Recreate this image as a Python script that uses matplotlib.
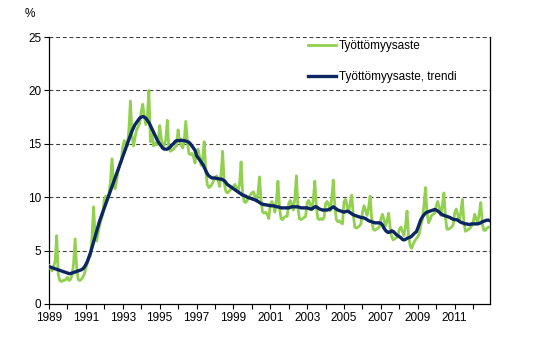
import numpy as np
import matplotlib
matplotlib.use('Agg')
import matplotlib.pyplot as plt

# --- Data: monthly unemployment rate (%) and trend, Jan 1989 - Dec 2012 ---
FIRST_YEAR = 1989
LAST_YEAR = 2012

# Työttömyysaste, one row per year (Jan..Dec)
rate = [
    [3.6, 3.3, 3.1, 3.5, 4.0, 6.4, 2.8, 2.2, 2.1, 2.2, 2.2, 2.3],        # 1989
    [2.5, 2.2, 2.3, 2.7, 3.8, 6.1, 3.4, 2.3, 2.2, 2.3, 2.5, 2.8],        # 1990
    [3.4, 3.8, 4.3, 4.5, 6.2, 9.1, 6.4, 5.9, 6.7, 7.4, 7.9, 8.4],        # 1991
    [9.8, 10.1, 9.9, 10.2, 11.5, 13.6, 11.3, 10.8, 11.6, 12.4, 13.0, 13.4],  # 1992
    [14.7, 15.3, 15.0, 14.8, 16.3, 19.0, 15.8, 14.8, 15.6, 16.3, 16.6, 16.9],  # 1993
    [18.0, 18.7, 17.6, 16.8, 17.5, 20.0, 15.2, 15.9, 14.8, 15.1, 14.9, 15.0],  # 1994
    [16.7, 15.6, 14.6, 14.9, 15.4, 17.2, 14.6, 14.3, 14.4, 14.5, 14.7, 14.8],  # 1995
    [16.3, 15.3, 14.9, 14.6, 15.3, 17.1, 15.4, 14.1, 14.0, 14.1, 13.8, 13.2],  # 1996
    [14.2, 14.5, 13.8, 13.0, 13.6, 15.2, 12.4, 11.2, 10.9, 11.0, 11.2, 11.5],  # 1997
    [11.8, 12.0, 11.6, 11.0, 12.2, 14.3, 11.4, 10.6, 10.4, 10.5, 10.7, 10.8],  # 1998
    [11.0, 11.2, 10.9, 10.5, 11.2, 13.3, 10.4, 9.6, 9.5, 9.7, 10.0, 10.2],   # 1999
    [10.4, 10.5, 10.1, 9.6, 10.4, 11.9, 9.7, 8.6, 8.5, 8.6, 8.4, 8.0],       # 2000
    [9.3, 9.6, 9.3, 8.6, 9.7, 11.5, 9.0, 8.0, 7.9, 8.1, 8.2, 8.2],           # 2001
    [9.4, 9.7, 9.3, 8.8, 9.9, 12.0, 9.0, 8.0, 7.9, 8.0, 8.1, 8.2],           # 2002
    [9.5, 9.7, 9.3, 8.8, 9.8, 11.5, 9.1, 8.0, 7.9, 8.0, 7.9, 8.1],           # 2003
    [9.4, 9.6, 9.3, 8.7, 9.9, 11.6, 9.2, 7.9, 7.7, 7.8, 7.6, 7.5],           # 2004
    [9.6, 9.8, 9.2, 8.6, 9.4, 10.2, 8.4, 7.2, 7.1, 7.2, 7.3, 7.5],           # 2005
    [8.6, 9.2, 8.8, 8.3, 9.0, 10.1, 8.0, 7.0, 6.9, 7.0, 7.1, 7.2],           # 2006
    [8.0, 8.4, 7.9, 7.3, 7.8, 8.5, 7.2, 6.3, 6.0, 6.1, 6.2, 6.3],            # 2007
    [7.0, 7.2, 6.8, 6.4, 7.3, 8.7, 6.4, 5.5, 5.2, 5.6, 5.9, 6.1],            # 2008
    [6.3, 6.6, 7.4, 7.9, 9.2, 10.9, 8.6, 7.6, 7.9, 8.3, 8.4, 8.5],           # 2009
    [9.2, 9.6, 9.0, 8.3, 9.2, 10.4, 8.1, 7.0, 7.0, 7.1, 7.2, 7.4],           # 2010
    [8.5, 8.9, 8.4, 7.7, 8.6, 9.8, 7.7, 6.8, 6.9, 7.0, 7.1, 7.3],            # 2011
    [7.6, 8.4, 8.0, 7.6, 8.5, 9.5, 7.5, 6.9, 6.9, 7.1, 7.2, 7.2],            # 2012
]

# Työttömyysaste, trendi
trend = [
    [3.5, 3.45, 3.4, 3.35, 3.3, 3.25, 3.2, 3.15, 3.1, 3.05, 3.0, 2.95],
    [2.9, 2.85, 2.85, 2.9, 2.95, 3.0, 3.05, 3.1, 3.15, 3.2, 3.3, 3.45],
    [3.7, 4.0, 4.4, 4.8, 5.3, 5.8, 6.3, 6.8, 7.3, 7.8, 8.2, 8.6],
    [9.0, 9.4, 9.8, 10.2, 10.6, 11.0, 11.4, 11.8, 12.2, 12.6, 13.0, 13.4],
    [13.8, 14.2, 14.6, 15.0, 15.4, 15.8, 16.2, 16.5, 16.8, 17.0, 17.2, 17.4],
    [17.5, 17.55, 17.5, 17.4, 17.2, 17.0, 16.7, 16.4, 16.1, 15.8, 15.5, 15.2],
    [15.0, 14.8, 14.6, 14.5, 14.5, 14.5, 14.6, 14.7, 14.9, 15.0, 15.2, 15.3],
    [15.3, 15.3, 15.35, 15.3, 15.3, 15.25, 15.2, 15.15, 15.0, 14.8, 14.6, 14.4],
    [13.9, 13.7, 13.5, 13.3, 13.1, 12.8, 12.5, 12.2, 12.0, 11.9, 11.8, 11.8],
    [11.8, 11.75, 11.75, 11.7, 11.7, 11.65, 11.55, 11.4, 11.2, 11.1, 11.0, 10.9],
    [10.8, 10.7, 10.6, 10.5, 10.4, 10.3, 10.2, 10.15, 10.1, 10.0, 9.95, 9.9],
    [9.85, 9.8, 9.75, 9.7, 9.6, 9.5, 9.4, 9.35, 9.3, 9.3, 9.25, 9.25],
    [9.2, 9.2, 9.2, 9.15, 9.1, 9.1, 9.05, 9.0, 9.0, 9.0, 9.0, 9.0],
    [9.0, 9.05, 9.1, 9.1, 9.1, 9.1, 9.1, 9.05, 9.0, 9.0, 9.0, 9.0],
    [9.0, 8.95, 8.9, 8.9, 9.0, 9.1, 9.1, 9.0, 8.9, 8.85, 8.8, 8.8],
    [8.8, 8.8, 8.85, 8.9, 9.0, 9.1, 9.0, 8.9, 8.8, 8.75, 8.7, 8.65],
    [8.6, 8.65, 8.7, 8.65, 8.55, 8.45, 8.35, 8.3, 8.25, 8.2, 8.15, 8.1],
    [8.1, 8.05, 8.0, 7.9, 7.8, 7.75, 7.7, 7.65, 7.6, 7.6, 7.6, 7.6],
    [7.55, 7.4, 7.1, 6.9, 6.75, 6.7, 6.75, 6.85, 6.8, 6.65, 6.5, 6.4],
    [6.3, 6.2, 6.05, 6.0, 6.05, 6.15, 6.2, 6.25, 6.35, 6.5, 6.65, 6.75],
    [7.1, 7.5, 7.9, 8.15, 8.35, 8.5, 8.6, 8.65, 8.7, 8.75, 8.8, 8.85],
    [8.8, 8.7, 8.6, 8.45, 8.35, 8.3, 8.25, 8.2, 8.15, 8.1, 8.0, 7.95],
    [7.9, 7.9, 7.85, 7.75, 7.65, 7.6, 7.55, 7.5, 7.5, 7.45, 7.45, 7.5],
    [7.5, 7.5, 7.5, 7.5, 7.55, 7.6, 7.7, 7.75, 7.8, 7.85, 7.85, 7.8],
]

y_ticks = [0, 5, 10, 15, 20, 25]
x_label_years = list(range(FIRST_YEAR, LAST_YEAR, 2))

# --- Colors ---
COL_RATE = '#92d050'
COL_TREND = '#0b2660'
COL_GRID = '#404040'

rate_flat = np.array(rate).ravel()
trend_flat = np.array(trend).ravel()
t = FIRST_YEAR + np.arange(len(rate_flat)) / 12.0

plt.rcParams['font.family'] = ['Liberation Sans', 'DejaVu Sans']

fig = plt.figure(figsize=(5.4, 3.45), dpi=100)
ax = fig.add_axes([49 / 540, 1 - 304 / 345, (490 - 49) / 540, (304 - 37) / 345])

ax.plot(t, rate_flat, color=COL_RATE, linewidth=2.0, label='Työttömyysaste',
        solid_joinstyle='round', zorder=3)
ax.plot(t, trend_flat, color=COL_TREND, linewidth=2.4, label='Työttömyysaste, trendi',
        solid_joinstyle='round', zorder=4)

ax.set_xlim(FIRST_YEAR, t[-1])
ax.set_ylim(0, 25)

# grid lines (dashed), including the top line at 25
for v in y_ticks[1:]:
    ax.axhline(v, color=COL_GRID, linewidth=0.8, linestyle=(0, (3.5, 2.5)), zorder=1)

ax.set_yticks(y_ticks)
ax.set_xticks(range(FIRST_YEAR, LAST_YEAR + 1))
ax.set_xticklabels([str(y) if y in x_label_years else '' for y in range(FIRST_YEAR, LAST_YEAR + 1)])
ax.tick_params(axis='both', direction='out', length=3.5, width=0.8, labelsize=8.5,
               colors='black', pad=2)

ax.spines['top'].set_visible(False)
for s in ['left', 'bottom', 'right']:
    ax.spines[s].set_linewidth(0.9)
    ax.spines[s].set_color('black')

fig.text(30 / 540, 1 - 14 / 345, '%', fontsize=8.5, ha='center', va='center')

leg = fig.legend(loc='upper left', bbox_to_anchor=(308 / 540, 1 - 40 / 345),
                 frameon=False, fontsize=8.5, handlelength=2.4, handletextpad=0.2,
                 labelspacing=1.6, borderpad=0, borderaxespad=0)

fig.savefig('out.png', dpi=100, facecolor='white')
